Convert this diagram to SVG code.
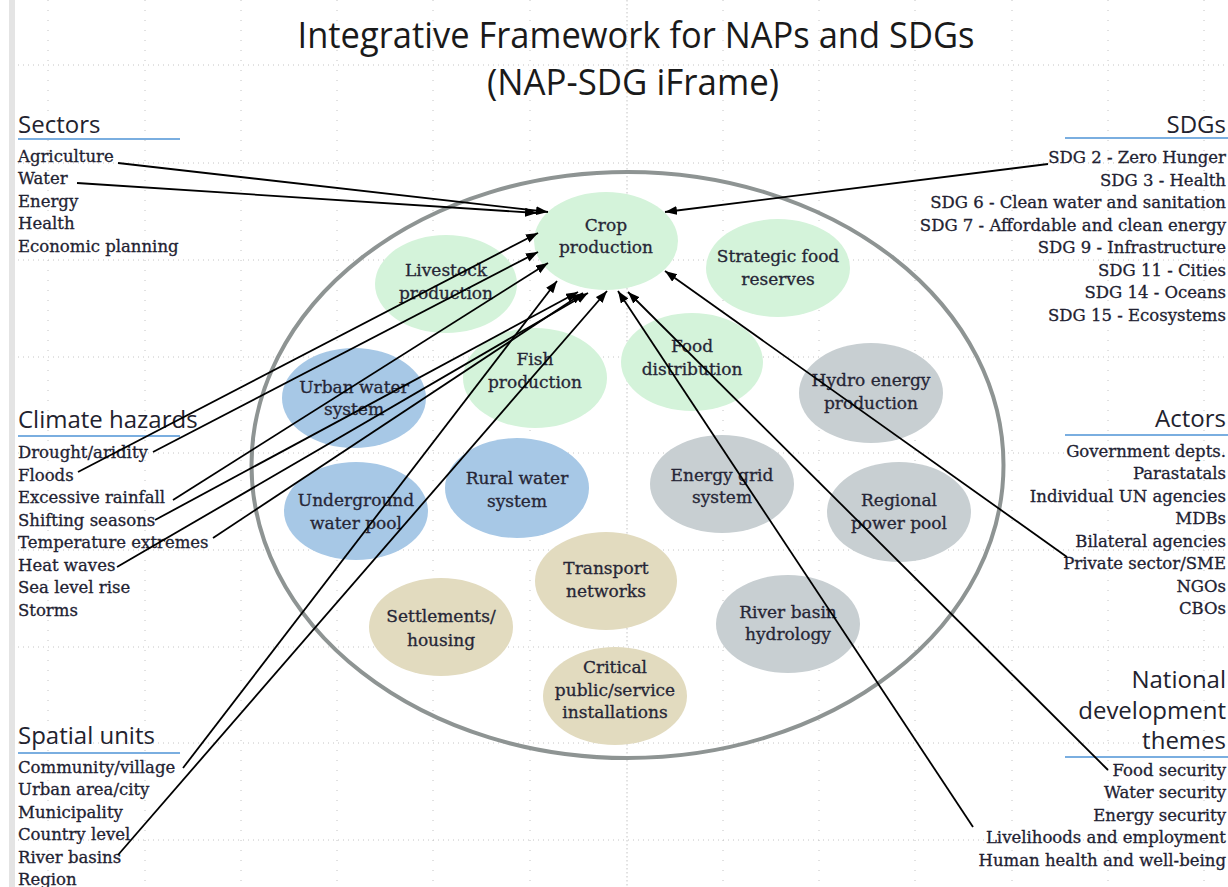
<svg xmlns="http://www.w3.org/2000/svg" width="1228" height="887" viewBox="0 0 1228 887">
<style>
.grid line{stroke:#c4c4c4;stroke-width:1}
.gh{stroke-dasharray:1 4}
.gv{stroke-dasharray:1 9}
.hd{font-family:"Open Sans","Noto Sans",sans-serif;font-size:24px;fill:#22222e}
.it{font-family:"DejaVu Serif","Liberation Serif",serif;font-size:16.5px;fill:#222232;stroke:#222232;stroke-width:0.3}
.r{text-anchor:end}
.ul{stroke:#7aaee0;stroke-width:2}
.nt{font-family:"DejaVu Serif","Liberation Serif",serif;font-size:17px;fill:#262636;stroke:#262636;stroke-width:0.3;text-anchor:middle}
.green{fill:#d4f3da}
.blue{fill:#a7c8e6}
.grey{fill:#c8cfd2}
.tan{fill:#e2dbbf}
.conn line{stroke:#000;stroke-width:1.8;marker-end:url(#ah)}
</style>
<defs>
<marker id="ah" markerUnits="userSpaceOnUse" markerWidth="13" markerHeight="10" refX="12" refY="4.5" orient="auto">
<path d="M0,0 L12,4.5 L0,9 z" fill="#000"/>
</marker>
</defs>
<rect x="0" y="0" width="1228" height="887" fill="#fff"/>
<rect x="9" y="0" width="6" height="887" fill="#e4e4e4"/>
<g class="grid" id="grid">
<line class="gh" x1="18" y1="65" x2="1228" y2="65"/>
<line class="gh" x1="18" y1="163" x2="1228" y2="163"/>
<line class="gh" x1="18" y1="260" x2="1228" y2="260"/>
<line class="gh" x1="18" y1="357" x2="1228" y2="357"/>
<line class="gh" x1="18" y1="453" x2="1228" y2="453"/>
<line class="gh" x1="18" y1="550" x2="1228" y2="550"/>
<line class="gh" x1="18" y1="647" x2="1228" y2="647"/>
<line class="gh" x1="18" y1="743" x2="1228" y2="743"/>
<line class="gh" x1="18" y1="840" x2="1228" y2="840"/>
<line class="gv" x1="48" y1="0" x2="48" y2="887"/>
<line class="gv" x1="145" y1="0" x2="145" y2="887"/>
<line class="gv" x1="241" y1="0" x2="241" y2="887"/>
<line class="gv" x1="337" y1="0" x2="337" y2="887"/>
<line class="gv" x1="433" y1="0" x2="433" y2="887"/>
<line class="gv" x1="530" y1="0" x2="530" y2="887"/>
<line x1="627" y1="0" x2="627" y2="887" stroke-dasharray="1.5 2.5"/>
<line class="gv" x1="723" y1="0" x2="723" y2="887"/>
<line class="gv" x1="819" y1="0" x2="819" y2="887"/>
<line class="gv" x1="915" y1="0" x2="915" y2="887"/>
<line class="gv" x1="1012" y1="0" x2="1012" y2="887"/>
<line class="gv" x1="1108" y1="0" x2="1108" y2="887"/>
<line class="gv" x1="1204" y1="0" x2="1204" y2="887"/>
</g>
<g id="title">
<text x="636" y="48" font-family="Open Sans, Noto Sans, sans-serif" font-size="37" fill="#1a1a1a" text-anchor="middle" textLength="677" lengthAdjust="spacingAndGlyphs">Integrative Framework for NAPs and SDGs</text>
<text x="633" y="95" font-family="Open Sans, Noto Sans, sans-serif" font-size="37" fill="#1a1a1a" text-anchor="middle" textLength="292" lengthAdjust="spacingAndGlyphs">(NAP-SDG iFrame)</text>
</g>
<g id="sectors">
<text class="hd" x="18" y="133">Sectors</text>
<line class="ul" x1="18" y1="139" x2="180" y2="139"/>
<text class="it" x="18" y="162">Agriculture</text>
<text class="it" x="18" y="184">Water</text>
<text class="it" x="18" y="207">Energy</text>
<text class="it" x="18" y="229">Health</text>
<text class="it" x="18" y="252">Economic planning</text>
</g>
<g id="climate-hazards">
<text class="hd" x="18" y="428">Climate hazards</text>
<line class="ul" x1="18" y1="436" x2="180" y2="436"/>
<text class="it" x="18" y="458">Drought/aridity</text>
<text class="it" x="18" y="481">Floods</text>
<text class="it" x="18" y="503">Excessive rainfall</text>
<text class="it" x="18" y="526">Shifting seasons</text>
<text class="it" x="18" y="548">Temperature extremes</text>
<text class="it" x="18" y="571">Heat waves</text>
<text class="it" x="18" y="593">Sea level rise</text>
<text class="it" x="18" y="616">Storms</text>
</g>
<g id="spatial-units">
<text class="hd" x="18" y="744">Spatial units</text>
<line class="ul" x1="18" y1="753" x2="180" y2="753"/>
<text class="it" x="18" y="773">Community/village</text>
<text class="it" x="18" y="795">Urban area/city</text>
<text class="it" x="18" y="818">Municipality</text>
<text class="it" x="18" y="840">Country level</text>
<text class="it" x="18" y="863">River basins</text>
<text class="it" x="18" y="885">Region</text>
</g>
<g id="sdgs">
<text class="hd r" x="1226" y="133">SDGs</text>
<line class="ul" x1="1065" y1="138" x2="1228" y2="138"/>
<text class="it r" x="1226" y="163">SDG 2 - Zero Hunger</text>
<text class="it r" x="1226" y="186">SDG 3 - Health</text>
<text class="it r" x="1226" y="208">SDG 6 - Clean water and sanitation</text>
<text class="it r" x="1226" y="231">SDG 7 - Affordable and clean energy</text>
<text class="it r" x="1226" y="253">SDG 9 - Infrastructure</text>
<text class="it r" x="1226" y="276">SDG 11 - Cities</text>
<text class="it r" x="1226" y="298">SDG 14 - Oceans</text>
<text class="it r" x="1226" y="321">SDG 15 - Ecosystems</text>
</g>
<g id="actors">
<text class="hd r" x="1226" y="427">Actors</text>
<line class="ul" x1="1065" y1="435" x2="1228" y2="435"/>
<text class="it r" x="1226" y="457">Government depts.</text>
<text class="it r" x="1226" y="479">Parastatals</text>
<text class="it r" x="1226" y="502">Individual UN agencies</text>
<text class="it r" x="1226" y="524">MDBs</text>
<text class="it r" x="1226" y="547">Bilateral agencies</text>
<text class="it r" x="1226" y="569">Private sector/SME</text>
<text class="it r" x="1226" y="592">NGOs</text>
<text class="it r" x="1226" y="614">CBOs</text>
</g>
<g id="national-development-themes">
<text class="hd r" x="1226" y="688">National</text>
<text class="hd r" x="1226" y="719">development</text>
<text class="hd r" x="1226" y="749">themes</text>
<line class="ul" x1="1065" y1="757" x2="1228" y2="757"/>
<text class="it r" x="1226" y="776">Food security</text>
<text class="it r" x="1226" y="798">Water security</text>
<text class="it r" x="1226" y="821">Energy security</text>
<text class="it r" x="1226" y="843">Livelihoods and employment</text>
<text class="it r" x="1226" y="866">Human health and well-being</text>
</g>
<g id="framework-boundary">
<ellipse cx="627.5" cy="465" rx="376" ry="293" fill="none" stroke="#8e9493" stroke-width="4"/>
</g>
<g id="crop-production"><ellipse class="green" cx="606" cy="241" rx="72" ry="49"/><text class="nt" x="606" y="231">Crop</text><text class="nt" x="606" y="253">production</text></g>
<g id="livestock-production"><ellipse class="green" cx="446" cy="284" rx="71" ry="49"/><text class="nt" x="446" y="276">Livestock</text><text class="nt" x="446" y="299">production</text></g>
<g id="strategic-food-reserves"><ellipse class="green" cx="778" cy="268" rx="72" ry="49"/><text class="nt" x="778" y="262">Strategic food</text><text class="nt" x="778" y="285">reserves</text></g>
<g id="fish-production"><ellipse class="green" cx="535" cy="378" rx="72" ry="50"/><text class="nt" x="535" y="365">Fish</text><text class="nt" x="535" y="388">production</text></g>
<g id="food-distribution"><ellipse class="green" cx="692" cy="362" rx="71" ry="49"/><text class="nt" x="692" y="352">Food</text><text class="nt" x="692" y="375">distribution</text></g>
<g id="hydro-energy-production"><ellipse class="grey" cx="871" cy="393" rx="72" ry="50"/><text class="nt" x="871" y="386">Hydro energy</text><text class="nt" x="871" y="409">production</text></g>
<g id="urban-water-system"><ellipse class="blue" cx="354" cy="398" rx="72" ry="50"/><text class="nt" x="354" y="393">Urban water</text><text class="nt" x="354" y="415">system</text></g>
<g id="underground-water-pool"><ellipse class="blue" cx="356" cy="511" rx="72" ry="49"/><text class="nt" x="356" y="506">Underground</text><text class="nt" x="356" y="529">water pool</text></g>
<g id="rural-water-system"><ellipse class="blue" cx="517" cy="488" rx="72" ry="50"/><text class="nt" x="517" y="484">Rural water</text><text class="nt" x="517" y="507">system</text></g>
<g id="energy-grid-system"><ellipse class="grey" cx="722" cy="484" rx="72" ry="49"/><text class="nt" x="722" y="481">Energy grid</text><text class="nt" x="722" y="503">system</text></g>
<g id="regional-power-pool"><ellipse class="grey" cx="899" cy="512" rx="72" ry="50"/><text class="nt" x="899" y="506">Regional</text><text class="nt" x="899" y="529">power pool</text></g>
<g id="transport-networks"><ellipse class="tan" cx="606" cy="581" rx="71" ry="49"/><text class="nt" x="606" y="574">Transport</text><text class="nt" x="606" y="597">networks</text></g>
<g id="settlements-housing"><ellipse class="tan" cx="441" cy="627" rx="72" ry="49"/><text class="nt" x="441" y="622">Settlements/</text><text class="nt" x="441" y="646">housing</text></g>
<g id="river-basin-hydrology"><ellipse class="grey" cx="788" cy="624" rx="72" ry="49"/><text class="nt" x="788" y="618">River basin</text><text class="nt" x="788" y="640">hydrology</text></g>
<g id="critical-installations"><ellipse class="tan" cx="615" cy="696" rx="72" ry="49"/><text class="nt" x="615" y="673">Critical</text><text class="nt" x="615" y="696">public/service</text><text class="nt" x="615" y="718">installations</text></g>
<g class="conn" id="connectors">
<line x1="118" y1="163" x2="548" y2="212"/>
<line x1="77" y1="183" x2="537" y2="213"/>
<line x1="1048" y1="164" x2="665" y2="212"/>
<line x1="78" y1="472" x2="538" y2="233"/>
<line x1="153" y1="452" x2="538" y2="252"/>
<line x1="173" y1="500" x2="548" y2="263"/>
<line x1="183" y1="768" x2="557" y2="281"/>
<line x1="155" y1="520" x2="578" y2="292"/>
<line x1="213" y1="538" x2="583" y2="293"/>
<line x1="117" y1="567" x2="588" y2="293"/>
<line x1="118" y1="855" x2="607" y2="291"/>
<line x1="973" y1="827" x2="618" y2="291"/>
<line x1="1108" y1="770" x2="628" y2="292"/>
<line x1="1067" y1="557" x2="665" y2="271"/>
</g>
</svg>
